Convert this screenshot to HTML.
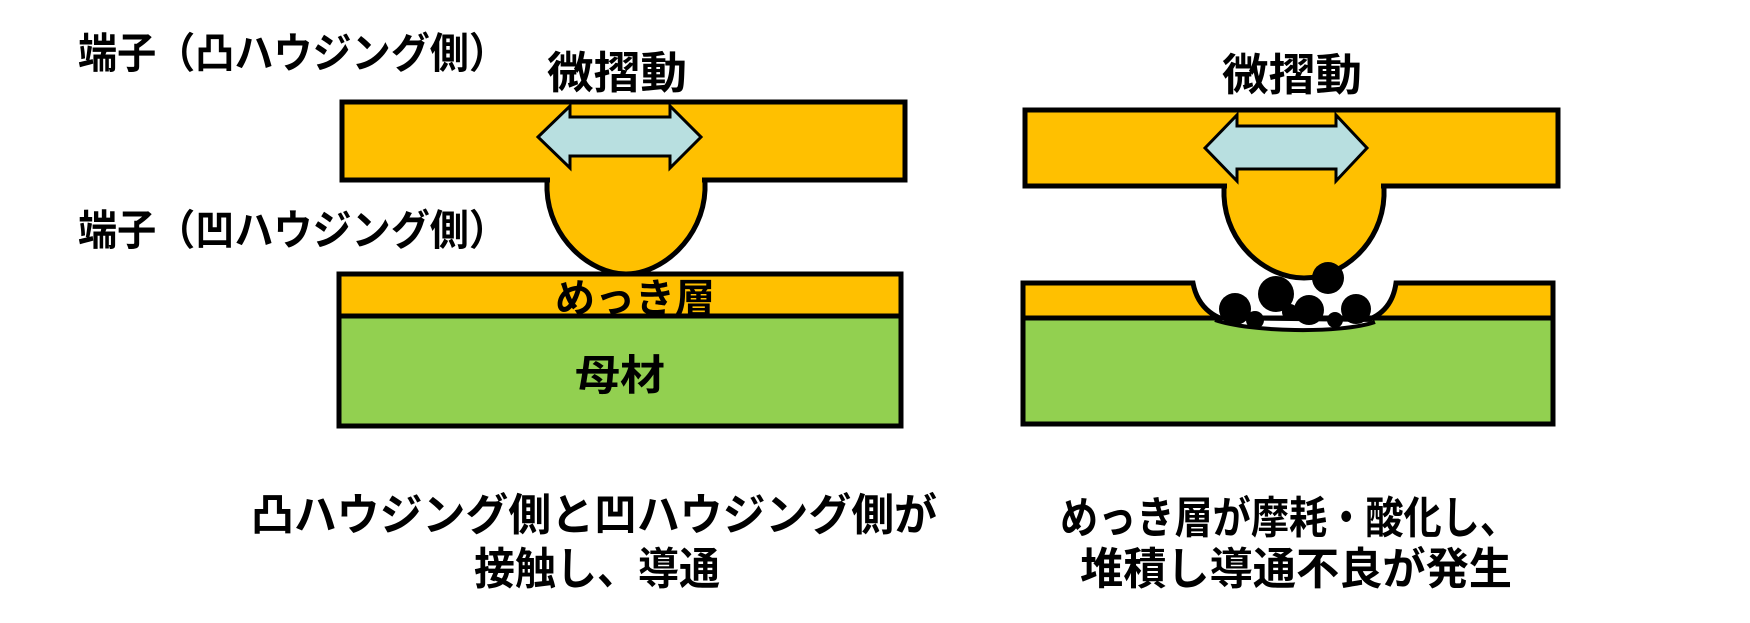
<!DOCTYPE html>
<html><head><meta charset="utf-8"><style>
html,body{margin:0;padding:0;background:#fff;}
svg{display:block;}
text{font-family:"Liberation Sans","Noto Sans CJK JP",sans-serif;fill:#000;font-weight:bold;}
</style></head><body>
<svg width="1750" height="623" viewBox="0 0 1750 623" xmlns="http://www.w3.org/2000/svg">
<!-- LEFT -->
<text x="78" y="68" font-size="42" textLength="430" lengthAdjust="spacingAndGlyphs">端子（凸ハウジング側）</text>
<text x="78" y="245" font-size="42" textLength="430" lengthAdjust="spacingAndGlyphs">端子（凹ハウジング側）</text>
<text x="547" y="88" font-size="44" textLength="140" lengthAdjust="spacingAndGlyphs">微摺動</text>
<path d="M547,178 L547,190 C549,238 590,274 626,274 C662,274 703,238 705,190 L705,178 Z" fill="#FFC000" stroke="#000" stroke-width="5"/>
<rect x="342" y="102" width="563" height="78" fill="#FFC000" stroke="#000" stroke-width="5"/>
<rect x="550" y="176" width="152" height="8" fill="#FFC000"/>
<path d="M538,137 L570,106 L570,117 L670,117 L670,106 L701,137 L670,168 L670,156 L570,156 L570,168 Z" fill="#B8DFE0" stroke="#000" stroke-width="3"/>
<rect x="339" y="274" width="562" height="42" fill="#FFC000" stroke="#000" stroke-width="5"/>
<rect x="339" y="316" width="562" height="110" fill="#92D050" stroke="#000" stroke-width="5"/>
<text x="555" y="312" font-size="40" textLength="160" lengthAdjust="spacingAndGlyphs">めっき層</text>
<text x="575" y="390" font-size="42" textLength="90" lengthAdjust="spacingAndGlyphs">母材</text>
<text x="251" y="530" font-size="44" textLength="686" lengthAdjust="spacingAndGlyphs">凸ハウジング側と凹ハウジング側が</text>
<text x="474" y="584" font-size="44" textLength="246" lengthAdjust="spacingAndGlyphs">接触し、導通</text>
<!-- RIGHT -->
<text x="1222" y="90" font-size="44" textLength="140" lengthAdjust="spacingAndGlyphs">微摺動</text>
<path d="M1224,184 L1224,196 C1226,244 1266,278 1304,278 C1342,278 1382,244 1384,196 L1384,184 Z" fill="#FFC000" stroke="#000" stroke-width="5"/>
<rect x="1025" y="110" width="533" height="76" fill="#FFC000" stroke="#000" stroke-width="5"/>
<rect x="1227" y="182" width="154" height="8" fill="#FFC000"/>
<path d="M1205,148 L1237,115 L1237,126 L1336,126 L1336,115 L1367,148 L1336,181 L1336,169 L1237,169 L1237,181 Z" fill="#B8DFE0" stroke="#000" stroke-width="3"/>
<rect x="1023" y="318" width="530" height="106" fill="#92D050" stroke="#000" stroke-width="5"/>
<path d="M1023,318 L1023,283 L1193,283 C1198,310 1218,320 1235,322 L1360,322 C1380,318 1393,305 1396,283 L1553,283 L1553,318 Z" fill="#FFC000" stroke="#000" stroke-width="5"/>
<path d="M1215,320 C1250,332 1340,334 1375,322" fill="#fff" stroke="#000" stroke-width="4"/>
<g fill="#000">
<circle cx="1328" cy="278" r="16"/>
<circle cx="1276" cy="294" r="18"/>
<circle cx="1235" cy="309" r="16"/>
<circle cx="1309" cy="310" r="15"/>
<circle cx="1356" cy="309" r="15"/>
<circle cx="1255" cy="320" r="9"/>
<circle cx="1335" cy="320" r="8"/>
<circle cx="1290" cy="312" r="8"/>
</g>
<text x="1060" y="533" font-size="44" textLength="458" lengthAdjust="spacingAndGlyphs">めっき層が摩耗・酸化し、</text>
<text x="1080" y="584" font-size="44" textLength="432" lengthAdjust="spacingAndGlyphs">堆積し導通不良が発生</text>
</svg>
</body></html>
